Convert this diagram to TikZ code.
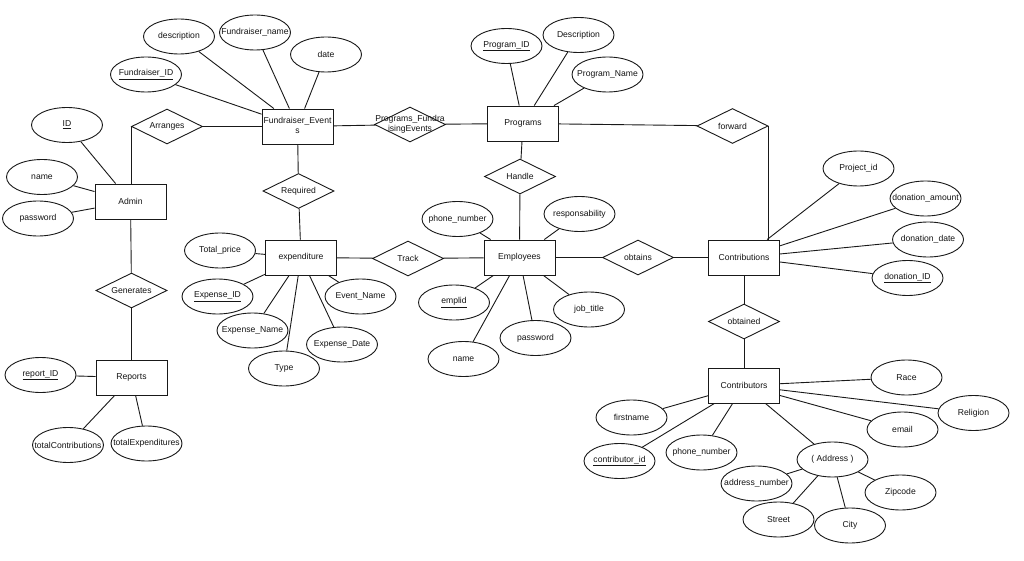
\documentclass[tikz,border=0pt]{standalone}
\usepackage{fontspec}
\setmainfont{Liberation Sans}
\usetikzlibrary{shapes.geometric}
\newcommand{\zb}[1]{\makebox[0pt][c]{#1}}
\newcommand{\zbt}[2]{\makebox[0pt][c]{\begin{tabular}{@{}c@{}}#1\\#2\end{tabular}}}
\begin{document}
\begin{tikzpicture}[x=1pt,y=-1pt,
  every node/.style={font=\fontsize{8.6}{10}\selectfont, text=black!92},
  ent/.style={rectangle, draw=black!90, line width=0.9pt, fill=white, minimum width=71, minimum height=35, inner sep=0},
  att/.style={ellipse, draw=black!90, line width=0.9pt, fill=white, minimum width=71, minimum height=35, inner sep=0},
  rel/.style={diamond, draw=black!90, line width=0.9pt, fill=white, minimum width=71, minimum height=35, inner sep=0},
  lbl/.style={inner sep=0},
  conn/.style={draw=black!90, line width=0.9pt}]
\fill[white] (0,0) rectangle (1024,561);
\useasboundingbox (0,0) rectangle (1024,561);

% entities
\node[ent] (fe) at (297.5,126.5) {\zbt{Fundraiser\_Event}{s}};
\node[ent] (admin) at (130.5,201.5) {\zb{Admin}};
\node[ent] (prog) at (523,123.5) {\zb{Programs}};
\node[ent] (expd) at (301,257.5) {\zb{expenditure}};
\node[ent] (emp) at (519.5,257.5) {\zb{Employees}};
\node[ent] (contrib) at (744,257.5) {\zb{Contributions}};
\node[ent] (reports) at (131.5,377.5) {\zb{Reports}};
\node[ent] (contors) at (744,385.5) {\zb{Contributors}};

% relationships
\node[rel] (arr) at (167,126.5) {};
\node[rel] (req) at (298.5,191) {};
\node[rel] (pf) at (410,124.5) {};
\node[rel] (hdl) at (520,176.5) {};
\node[rel] (fwd) at (732.5,126) {};
\node[rel] (trk) at (408,258.5) {};
\node[rel] (obs) at (638,257.5) {};
\node[rel] (gen) at (131.5,290.5) {};
\node[rel] (obd) at (744,321.5) {};
\node[lbl] (arr-t) at (arr) {\zb{Arranges}};
\node[lbl] (req-t) at (req) {\zb{Required}};
\node[lbl] (pf-t) at (pf) {\zbt{Programs\_Fundra}{isingEvents}};
\node[lbl] (hdl-t) at (hdl) {\zb{Handle}};
\node[lbl] (fwd-t) at (fwd) {\zb{forward}};
\node[lbl] (trk-t) at (trk) {\zb{Track}};
\node[lbl] (obs-t) at (obs) {\zb{obtains}};
\node[lbl] (gen-t) at (gen) {\zb{Generates}};
\node[lbl] (obd-t) at (obd) {\zb{obtained}};

% attributes
\node[att] (a-desc) at (179,36.5) {\zb{description}};
\node[att] (a-fname) at (255,32.5) {\zb{Fundraiser\_name}};
\node[att] (a-date) at (326,54.5) {\zb{date}};
\node[att] (a-fid) at (146,74.5) {\zb{\underline{Fundraiser\_ID}}};
\node[att] (a-id) at (67,125) {\zb{\underline{ID}}};
\node[att] (a-aname) at (42,177) {\zb{name}};
\node[att] (a-apw) at (38,218.5) {\zb{password}};
\node[att] (a-tp) at (220,250.5) {\zb{Total\_price}};
\node[att] (a-eid) at (217.5,296.5) {\zb{\underline{Expense\_ID}}};
\node[att] (a-ename) at (252.5,330.5) {\zb{Expense\_Name}};
\node[att] (a-type) at (284,368.5) {\zb{Type}};
\node[att] (a-edate) at (342,344.5) {\zb{Expense\_Date}};
\node[att] (a-evn) at (360.5,296.5) {\zb{Event\_Name}};
\node[att] (a-eph) at (457.5,219) {\zb{phone\_number}};
\node[att] (a-resp) at (579.5,214) {\zb{responsability}};
\node[att] (a-empid) at (454,302.5) {\zb{\underline{emplid}}};
\node[att] (a-ename2) at (463.5,359) {\zb{name}};
\node[att] (a-epw) at (535.5,338) {\zb{password}};
\node[att] (a-job) at (589,309.5) {\zb{job\_title}};
\node[att] (a-pid) at (506.5,46) {\zb{\underline{Program\_ID}}};
\node[att] (a-pdesc) at (578.5,35) {\zb{Description}};
\node[att] (a-pname) at (607.5,74.5) {\zb{Program\_Name}};
\node[att] (a-proj) at (858.5,168.5) {\zb{Project\_id}};
\node[att] (a-damt) at (925.5,198.5) {\zb{donation\_amount}};
\node[att] (a-ddate) at (928,239.5) {\zb{donation\_date}};
\node[att] (a-did) at (907.5,278) {\zb{\underline{donation\_ID}}};
\node[att] (a-rid) at (40.5,375) {\zb{\underline{report\_ID}}};
\node[att] (a-tc) at (68,445) {\zb{totalContributions}};
\node[att] (a-te) at (146.5,443.5) {\zb{totalExpenditures}};
\node[att] (a-race) at (906.5,377.5) {\zb{Race}};
\node[att] (a-rel) at (973.5,413) {\zb{Religion}};
\node[att] (a-email) at (902.5,429.5) {\zb{email}};
\node[att] (a-first) at (631.5,417.5) {\zb{firstname}};
\node[att] (a-cid) at (619.5,461) {\zb{\underline{contributor\_id}}};
\node[att] (a-cph) at (701.5,452.5) {\zb{phone\_number}};
\node[att] (a-addr) at (832.5,459.5) {\zb{( Address )}};
\node[att] (a-anum) at (756.5,483.5) {\zb{address\_number}};
\node[att] (a-zip) at (900.5,492.5) {\zb{Zipcode}};
\node[att] (a-street) at (778.5,519.5) {\zb{Street}};
\node[att] (a-city) at (850,525.5) {\zb{City}};

% relationship connectors
\draw[conn] (arr.west) -- (arr.west |- admin.north);
\draw[conn] (arr) -- (fe);
\draw[conn] (fe) -- (pf);
\draw[conn] (pf) -- (prog);
\draw[conn] (prog) -- (fwd);
\draw[conn] (fwd.east) -- (fwd.east |- contrib.north);
\draw[conn] (fe) -- (req);
\draw[conn] (req) -- (expd);
\draw[conn] (prog) -- (hdl);
\draw[conn] (hdl) -- (emp);
\draw[conn] (expd) -- (trk);
\draw[conn] (trk) -- (emp);
\draw[conn] (emp) -- (obs);
\draw[conn] (obs) -- (contrib);
\draw[conn] (contrib) -- (obd);
\draw[conn] (obd) -- (contors);
\draw[conn] (admin) -- (gen);
\draw[conn] (gen) -- (reports);

% attribute connectors
\foreach \a in {a-desc,a-fname,a-date,a-fid} \draw[conn] (\a) -- (fe);
\foreach \a in {a-id,a-aname,a-apw} \draw[conn] (\a) -- (admin);
\foreach \a in {a-tp,a-eid,a-ename,a-type,a-edate,a-evn} \draw[conn] (\a) -- (expd);
\foreach \a in {a-eph,a-resp,a-empid,a-ename2,a-epw,a-job} \draw[conn] (\a) -- (emp);
\foreach \a in {a-pid,a-pdesc,a-pname} \draw[conn] (\a) -- (prog);
\foreach \a in {a-proj,a-damt,a-ddate,a-did} \draw[conn] (\a) -- (contrib);
\foreach \a in {a-rid,a-tc,a-te} \draw[conn] (\a) -- (reports);
\foreach \a in {a-race,a-rel,a-email,a-first,a-cid,a-cph,a-addr} \draw[conn] (\a) -- (contors);
\foreach \a in {a-anum,a-zip,a-street,a-city} \draw[conn] (\a) -- (a-addr);
\end{tikzpicture}
\end{document}
